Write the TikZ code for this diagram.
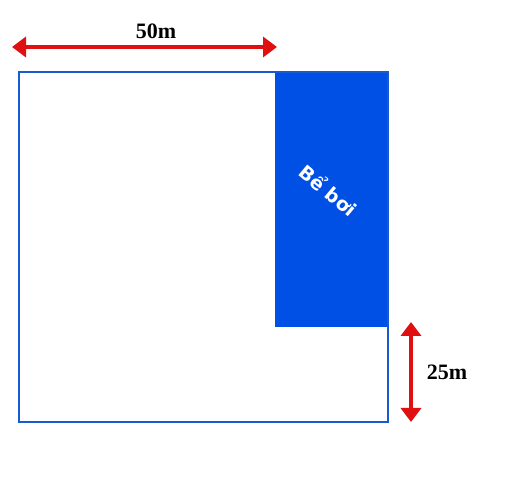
\documentclass[tikz,border=0pt]{standalone}
\usepackage{fontspec}
\setmainfont{Liberation Serif}
\newfontfamily\poolfont{DejaVu Sans}
\usetikzlibrary{arrows.meta}
\definecolor{edgeblue}{HTML}{1A5AD0}
\definecolor{poolblue}{HTML}{0050E6}
\definecolor{arrred}{HTML}{E01010}
\begin{document}
\begin{tikzpicture}[x=1pt,y=-1pt,
  dimarrow/.style={draw=arrred,line width=4.2pt,{Triangle[length=14pt,width=20pt]}-{Triangle[length=14pt,width=20pt]}},
  dimlabel/.style={font=\bfseries\fontsize{22}{26}\selectfont}]
\useasboundingbox[fill=white] (0,0) rectangle (512,489);
\fill[poolblue] (275,72) rectangle (388,327);
\draw[edgeblue,line width=2.4pt] (19,72) rectangle (388,422);
\node[rotate=-40,text=white,font=\poolfont\bfseries\fontsize{19}{22}\selectfont] (pool) at (329,190) {Bể bơi};
\coordinate (tl) at (12,47);
\coordinate (tr) at (277,47);
\draw[dimarrow] (tl) -- (tr);
\node[dimlabel] (lab50) at (156,31) {50m};
\coordinate (rt) at (411,322);
\coordinate (rb) at (411,422);
\draw[dimarrow] (rt) -- (rb);
\node[dimlabel] (lab25) at (447,372) {25m};
\end{tikzpicture}
\end{document}
